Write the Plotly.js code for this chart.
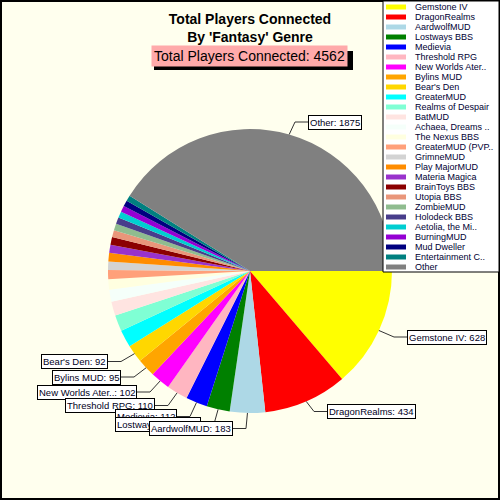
<!DOCTYPE html>
<html><head><meta charset="utf-8">
<script src="https://cdn.plot.ly/plotly-3.0.1.min.js"></script>
<style>html,body{margin:0;padding:0;background:#fff}#chart{width:500px;height:500px}</style>
</head><body><div id="chart"></div>
<script>
const labels = ["Gemstone IV","DragonRealms","AardwolfMUD","Lostways BBS","Medievia","Threshold RPG","New Worlds Ater..","Bylins MUD","Bear's Den","GreaterMUD","Realms of Despair","BatMUD","Achaea, Dreams ..","The Nexus BBS","GreaterMUD (PVP..","GrimneMUD","Play MajorMUD","Materia Magica","BrainToys BBS","Utopia BBS","ZombieMUD","Holodeck BBS","Aetolia, the Mi..","BurningMUD","Mud Dweller","Entertainment C..","Other"];
const values = [628,434,183,120,112,110,102,95,92,90,83,73,63,54,47,44,44,42,40,36,35,34,33,32,31,30,1875];
const colors = ["#FFFF00","#FF0000","#ADD8E6","#008000","#0000FF","#FFB6C1","#FF00FF","#FFA500","#FFD700","#00FFFF","#7FFFD4","#FFE4E1","#F5FFFA","#FFFFE0","#FFA07A","#D3D3D3","#FF8C00","#9932CC","#8B0000","#E9967A","#8FBC8F","#483D8B","#00CED1","#9400D3","#000080","#008080","#808080"];
const chartTitle = "Total Players Connected<br>By 'Fantasy' Genre";
const subTitle = "Total Players Connected: 4562";

// layout geometry (pixels)
const W = 500, H = 500, CX = 250, CY = 271, R = 142;
// label box attachment edge (x), centre y, and which edge attaches
const labelBoxes = {
  "Gemstone IV":       {x: 407, y: 337, anchor: "left"},
  "DragonRealms":      {x: 327, y: 411.5, anchor: "left"},
  "AardwolfMUD":       {x: 233, y: 428.5, anchor: "right"},
  "Lostways BBS":      {x: 201, y: 424, anchor: "right"},
  "Medievia":          {x: 177, y: 416.5, anchor: "right"},
  "Threshold RPG":     {x: 155, y: 405.5, anchor: "right"},
  "New Worlds Ater..": {x: 137, y: 392, anchor: "right"},
  "Bylins MUD":        {x: 121, y: 377, anchor: "right"},
  "Bear's Den":        {x: 108, y: 361.5, anchor: "right"},
  "Other":             {x: 308, y: 122, anchor: "left"}
};

const px = x => x / W, py = y => 1 - y / H;
const total = values.reduce((a, b) => a + b, 0);

const annotations = [];
const shapes = [];

// outer frame
shapes.push({type: "rect", xref: "paper", yref: "paper", x0: px(1), x1: px(499), y0: py(499), y1: py(1), line: {color: "#000", width: 2}, layer: "below"});
// subtitle shadow
shapes.push({type: "rect", xref: "paper", yref: "paper", x0: px(154), x1: px(353), y0: py(70), y1: py(51), fillcolor: "#000", line: {width: 0}});

// slice labels with leader lines
const cum = [];
values.reduce((acc, v, i) => { cum[i] = acc; return acc + v; }, 0);
const order = labels.map((l, i) => i).reverse();
order.forEach(i => {
  const box = labelBoxes[labels[i]];
  if (!box) return;
  const mid = (cum[i] + values[i] / 2) / total * 2 * Math.PI;
  const P = [CX + R * Math.cos(mid), CY + R * Math.sin(mid)];
  const ex = box.anchor === "left" ? box.x - 13 : box.x + 13;
  shapes.push({type: "path", xref: "paper", yref: "paper",
    path: `M${px(P[0])},${py(P[1])} L${px(ex)},${py(box.y)} L${px(box.x)},${py(box.y)}`,
    line: {color: "#333", width: 1}});
  annotations.push({text: labels[i] + ": " + values[i], xref: "paper", yref: "paper",
    x: px(box.x), y: py(box.y), xanchor: box.anchor, yanchor: "middle", showarrow: false,
    bgcolor: "#FFFFFF", bordercolor: "#000", borderwidth: 1, borderpad: 1,
    font: {family: "Liberation Sans, Arial", size: 9.5, color: "#000022"}});
});

// subtitle
annotations.push({text: subTitle, xref: "paper", yref: "paper", x: px(249), y: py(56.5), xanchor: "center", yanchor: "middle",
  showarrow: false, bgcolor: "#FFAAAA", borderpad: 2, font: {family: "Liberation Sans, Arial", size: 14, color: "#000"}});

// legend (manual, compact rows)
shapes.push({type: "rect", xref: "paper", yref: "paper", x0: px(383), x1: px(499), y0: py(272), y1: py(1), fillcolor: "#FFFFFF", line: {color: "#000", width: 1}});
labels.forEach((l, i) => {
  const yy = 7 + i * 10;
  shapes.push({type: "rect", xref: "paper", yref: "paper", x0: px(386), x1: px(406), y0: py(yy + 2.5), y1: py(yy - 2.5), fillcolor: colors[i], line: {width: 0}});
  annotations.push({text: l, xref: "paper", yref: "paper", x: px(414), y: py(yy), xanchor: "left", yanchor: "middle", showarrow: false,
    borderpad: 0, font: {family: "Liberation Sans, Arial", size: 9, color: "#000033"}});
});

const data = [{
  type: "pie", labels: labels, values: values, sort: false, direction: "clockwise", rotation: 90,
  marker: {colors: colors, line: {width: 0}}, textinfo: "none", hoverinfo: "label+value",
  domain: {x: [px(CX - R), px(CX + R)], y: [py(CY + R), py(CY - R)]}, showlegend: false
}];

const layout = {
  width: W, height: H, margin: {l: 0, r: 0, t: 0, b: 0},
  paper_bgcolor: "#FFFFEE",
  title: {text: chartTitle, x: 0.5, xref: "paper", y: py(23.5), yref: "container", yanchor: "middle",
    font: {family: "Liberation Sans, Arial", size: 14, weight: "bold", color: "#000"}},
  showlegend: false, annotations: annotations, shapes: shapes
};
Plotly.newPlot("chart", data, layout, {displayModeBar: false, staticPlot: true});
</script></body></html>
